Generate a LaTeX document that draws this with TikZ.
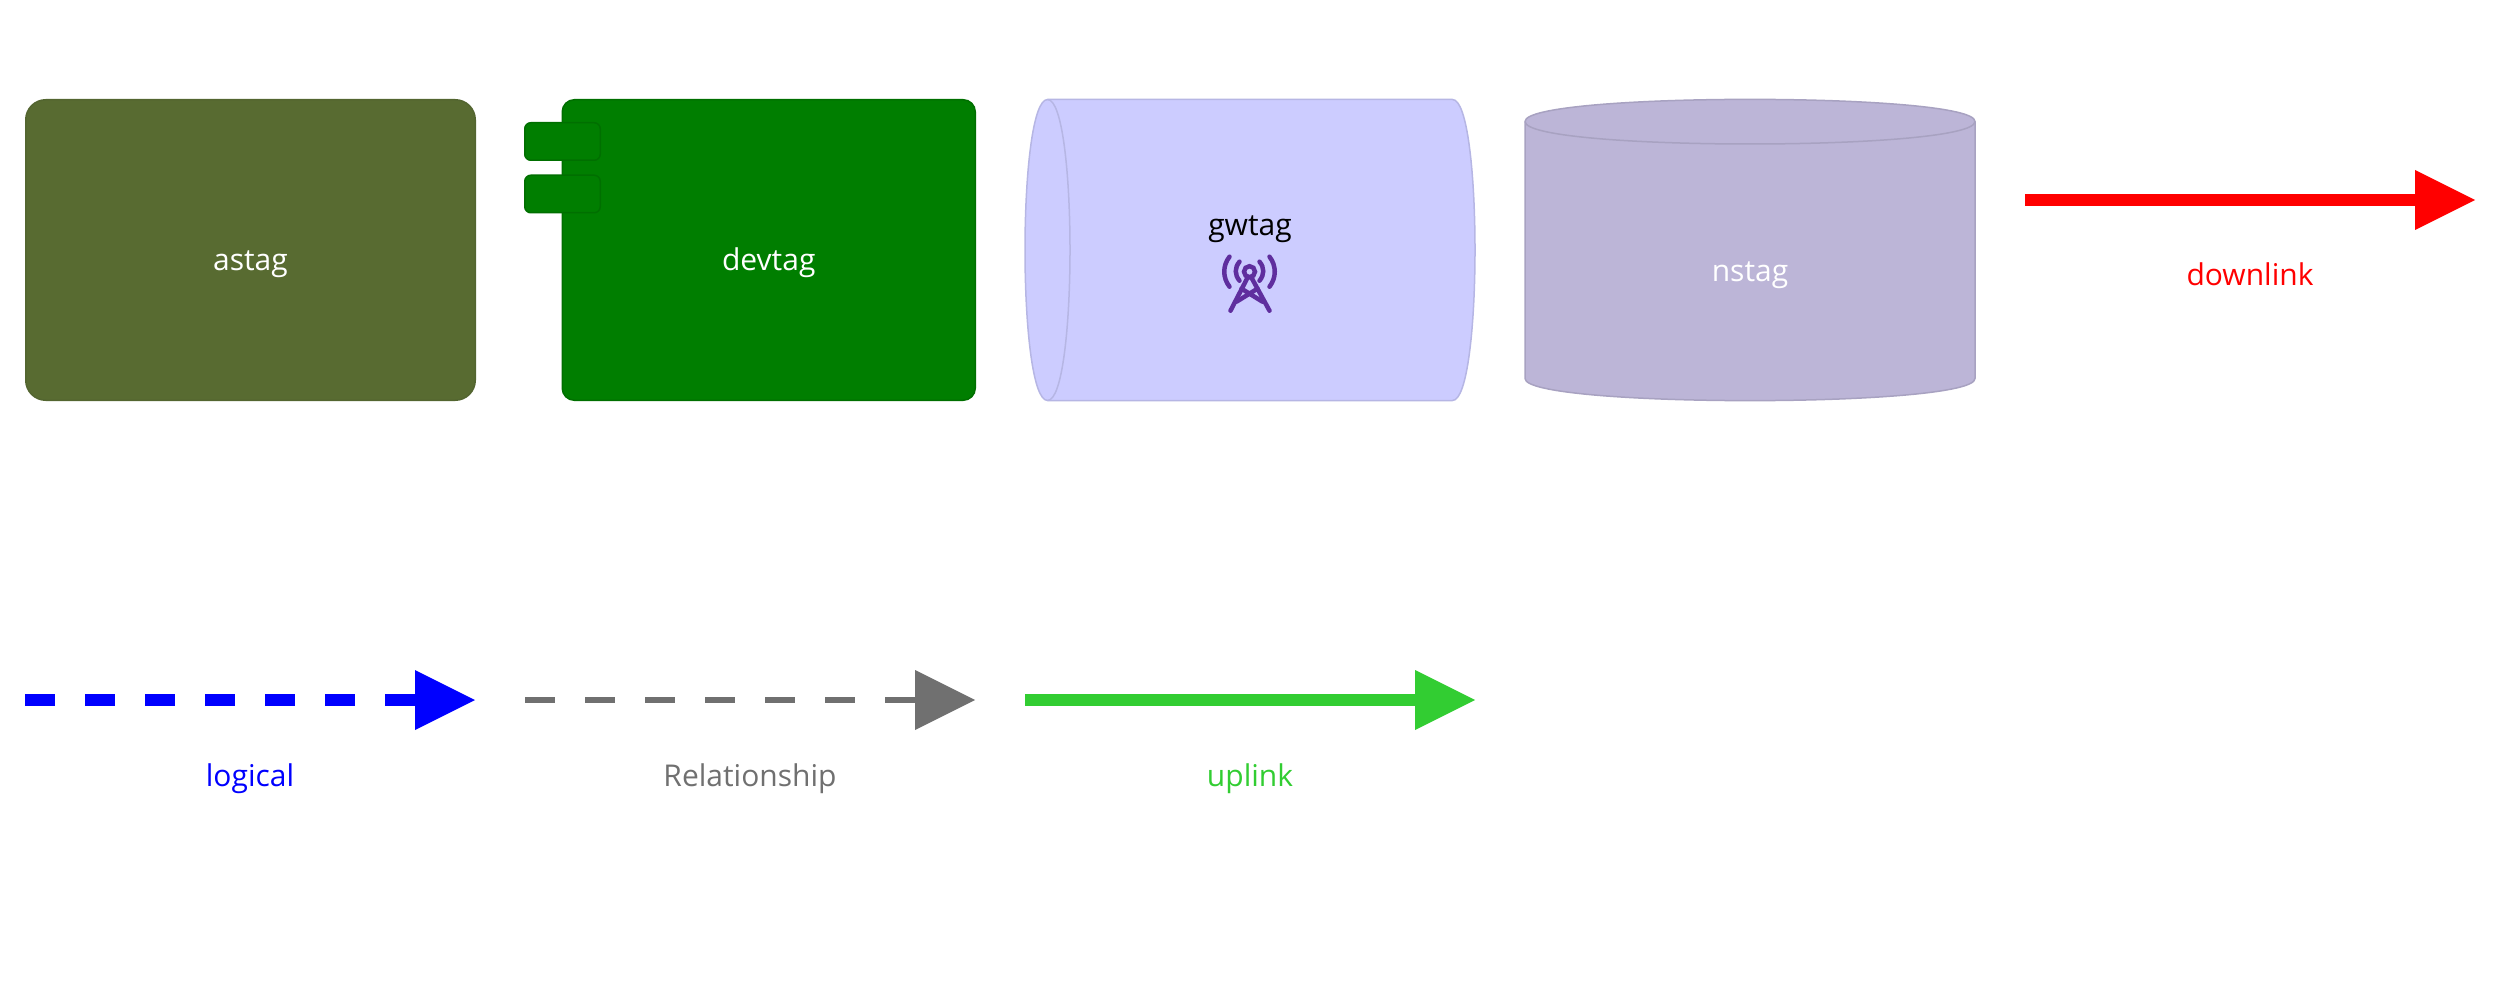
\documentclass[tikz,border=0pt]{standalone}
\usepackage{fontspec}
\setmainfont{Open Sans}
\usepackage{xcolor}
\usetikzlibrary{arrows.meta,calc,positioning}
\definecolor{asfill}{HTML}{586B31}
\definecolor{asedge}{HTML}{536530}
\definecolor{devfill}{HTML}{007E00}
\definecolor{devedge}{HTML}{006F00}
\definecolor{gwfill}{HTML}{CCCCFF}
\definecolor{gwedge}{HTML}{B6B6E4}
\definecolor{nsfill}{HTML}{BCB5D7}
\definecolor{nsedge}{HTML}{A8A2C1}
\definecolor{towercolor}{HTML}{5F2E9E}
\definecolor{relcolor}{HTML}{707070}
\definecolor{uplinkcolor}{HTML}{32CD32}
\tikzset{%
	block/.style    = {draw, rectangle, inner sep=0pt, outer sep=0pt, line width=1.5pt},
	tag/.style      = {anchor=base, inner sep=0pt, font=\fontsize{30}{36}\selectfont},
	link/.style     = {line width=12pt, -{Triangle[length=60pt,width=60pt,line width=0pt]}},
	relation/.style = {line width=6pt, -{Triangle[length=60pt,width=60pt,line width=0pt]}},
	gaps/.style     = {dash pattern=on 30pt off 30pt},
}
\begin{document}
\begin{tikzpicture}[x=1pt,y=-1pt]
	\useasboundingbox (0,0) rectangle (2500,1000);
	% top row
	\node [block, draw=asedge, fill=asfill, rounded corners=20pt, minimum width=449.5pt, minimum height=300.5pt] (as) at (250.5,250) {};
	\node [block, draw=devedge, fill=devfill, rounded corners=12pt, minimum width=413pt, minimum height=300.5pt] (dev) [right=87pt of as] {};
	\node [block, draw=devedge, fill=devfill, rounded corners=6pt, minimum width=75.5pt, minimum height=37.5pt] (port1) at (562.5,141.5) {};
	\node [block, draw=devedge, fill=devfill, rounded corners=6pt, minimum width=75.5pt, minimum height=37.5pt] (port2) [below=15pt of port1] {};
	\node [tag, text=white] (astag) at ($(as.center)+(0,21)$) {astag};
	\node [tag, text=white] (devtag) at ($(dev.center)+(0,21)$) {devtag};
	% gateway cylinder lies on its side
	\draw [block, draw=gwedge, fill=gwfill] (1047.5,99.5) .. controls (1017.5,99.5) and (1017.5,400.5) .. (1047.5,400.5) -- (1452.5,400.5) .. controls (1482.5,400.5) and (1482.5,99.5) .. (1452.5,99.5) -- cycle;
	\draw [block, draw=gwedge] (1047.5,99.5) .. controls (1077.5,99.5) and (1077.5,400.5) .. (1047.5,400.5);
	\node [tag, text=black] (gwtag) at (1250,236) {gwtag};
	\begin{scope}[shift={(1249.5,271.7)}, towercolor, line width=4.5pt, line cap=round]
		\draw (0,0) circle (5.5pt);
		\draw (-2,6) -- (-19,39);
		\draw (2,6) -- (20,39);
		\draw (-13,30) -- (8,17);
		\draw (13,30) -- (-8,17);
		\draw (-10,-10) .. controls (-15,-4) and (-15,3) .. (-10,9);
		\draw (10,-10) .. controls (15,-4) and (15,3) .. (10,9);
		\draw (-20,-15) .. controls (-27,-6) and (-27,6) .. (-20,15);
		\draw (20,-15) .. controls (27,-6) and (27,6) .. (20,15);
	\end{scope}
	\draw [block, draw=nsedge, fill=nsfill] (1525,121.5) .. controls (1525,92) and (1975,92) .. (1975,121.5) -- (1975,378.5) .. controls (1975,408) and (1525,408) .. (1525,378.5) -- cycle;
	\draw [block, draw=nsedge] (1525,121.5) .. controls (1525,151.5) and (1975,151.5) .. (1975,121.5);
	\node [tag, text=white] (nstag) at (1750,282) {nstag};
	% links
	\coordinate (downstart) at (2025,200);
	\coordinate (downend) at (2475,200);
	\coordinate (logicalstart) at (25,700);
	\coordinate (logicalend) at (475,700);
	\coordinate (relstart) at (525,700);
	\coordinate (relend) at (975,700);
	\coordinate (upstart) at (1025,700);
	\coordinate (upend) at (1475,700);
	\draw [link, red] (downstart) -- (downend);
	\draw [link, gaps, blue] (logicalstart) -- (logicalend);
	\draw [relation, gaps, relcolor] (relstart) -- (relend);
	\draw [link, uplinkcolor] (upstart) -- (upend);
	\node [tag, text=red] (downlink) at (2250,286) {downlink};
	\node [tag, text=blue] (logical) at (250,786) {logical};
	\node [tag, text=relcolor] (relationship) at (750,786) {Relationship};
	\node [tag, text=uplinkcolor] (uplink) at (1250,786) {uplink};
\end{tikzpicture}
\end{document}
